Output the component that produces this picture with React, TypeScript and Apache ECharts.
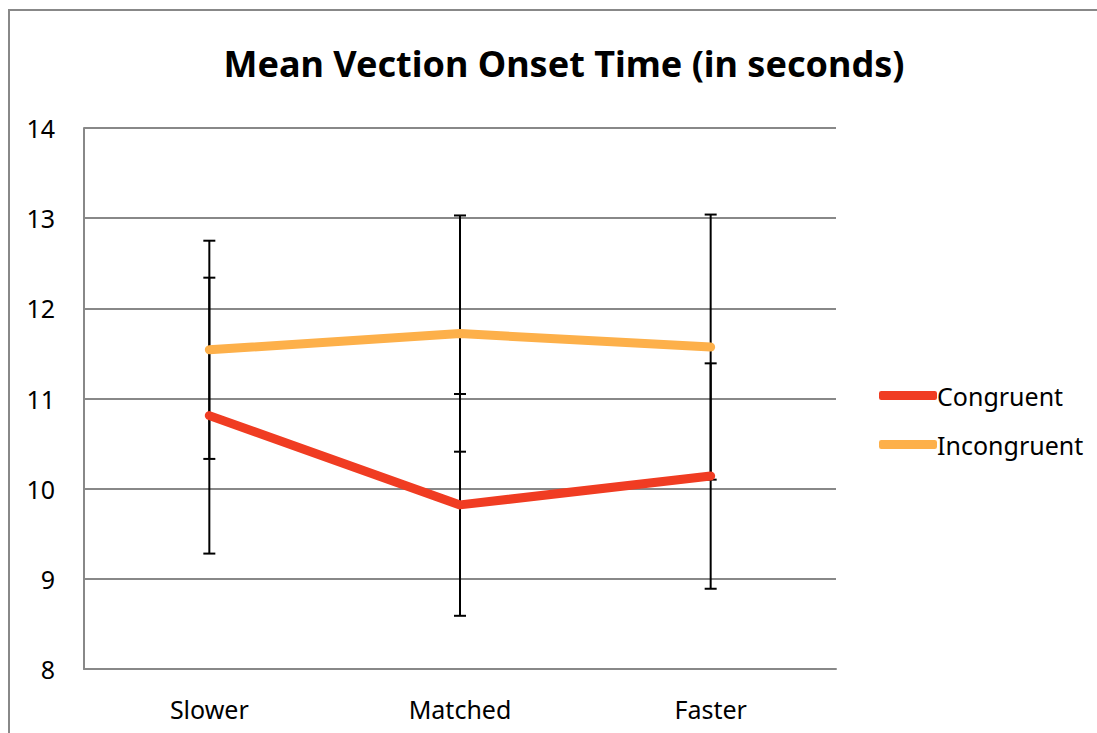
import React, { useEffect, useRef } from "react";
import * as echarts from "echarts";

const categories = ["Slower", "Matched", "Faster"];
const congruent = [10.81, 9.82, 10.14];
const incongruent = [11.54, 11.72, 11.57];
const congruentErr = [1.53, 1.23, 1.25];
const incongruentErr = [1.21, 1.31, 1.47];
const yTicks = [8, 9, 10, 11, 12, 13, 14];

const FONT = "'Noto Sans', 'Open Sans', sans-serif";

function errData(means: number[], errs: number[]) {
  return means.map((m, i) => [i, m - errs[i], m + errs[i]]);
}

function renderErr(params: any, api: any) {
  const x = api.value(0);
  const lo = api.coord([x, api.value(1)]);
  const hi = api.coord([x, api.value(2)]);
  const hw = 6;
  const style = { stroke: "#000", lineWidth: 2 };
  return {
    type: "group",
    children: [
      { type: "line", shape: { x1: lo[0], y1: lo[1], x2: hi[0], y2: hi[1] }, style },
      { type: "line", shape: { x1: lo[0] - hw, y1: lo[1], x2: lo[0] + hw, y2: lo[1] }, style },
      { type: "line", shape: { x1: hi[0] - hw, y1: hi[1], x2: hi[0] + hw, y2: hi[1] }, style },
    ],
  };
}

export default function App() {
  const ref = useRef<HTMLDivElement>(null);
  useEffect(() => {
    const chart = echarts.init(ref.current!, null, { renderer: "svg" });
    chart.setOption({
      animation: false,
      backgroundColor: "#fff",
      title: {
        text: "Mean Vection Onset Time (in seconds)",
        left: 559,
        textAlign: "center",
        top: 40,
        textStyle: { fontFamily: FONT, fontSize: 36, fontWeight: "bold", color: "#000" },
      },
      graphic: [
        {
          type: "polyline",
          shape: { points: [[9, 733], [9, 10], [1097, 10]] },
          style: { stroke: "#888", lineWidth: 2, fill: "none" },
        },
      ],
      legend: {
        orient: "vertical",
        left: 874,
        top: 378,
        itemWidth: 58,
        itemHeight: 9,
        itemGap: 24,
        icon: "roundRect",
        textStyle: { fontFamily: FONT, fontSize: 25, color: "#000", padding: [0, 0, 0, -5] },
        data: ["Congruent", "Incongruent"],
      },
      grid: { left: 84, right: 261, top: 128, bottom: 64 },
      xAxis: {
        type: "category",
        data: categories,
        boundaryGap: true,
        axisLine: { lineStyle: { color: "#888", width: 2 } },
        axisTick: { show: false },
        axisLabel: { fontFamily: FONT, fontSize: 25, color: "#000", margin: 27 },
      },
      yAxis: {
        type: "value",
        min: yTicks[0],
        max: yTicks[yTicks.length - 1],
        interval: 1,
        axisLine: { show: true, lineStyle: { color: "#888", width: 2 } },
        axisTick: { show: false },
        splitLine: { lineStyle: { color: "#888", width: 2 } },
        axisLabel: { fontFamily: FONT, fontSize: 25, color: "#000", margin: 29 },
      },
      series: [
        {
          type: "custom",
          name: "errC",
          renderItem: renderErr,
          data: errData(congruent, congruentErr),
          encode: { x: 0, y: [1, 2] },
          z: 2,
        },
        {
          type: "custom",
          name: "errI",
          renderItem: renderErr,
          data: errData(incongruent, incongruentErr),
          encode: { x: 0, y: [1, 2] },
          z: 2,
        },
        {
          type: "line",
          name: "Congruent",
          data: congruent,
          symbol: "none",
          color: "#F03C22",
          lineStyle: { width: 9, color: "#F03C22", cap: "round", join: "round" },
          z: 3,
        },
        {
          type: "line",
          name: "Incongruent",
          data: incongruent,
          symbol: "none",
          color: "#FDB04A",
          lineStyle: { width: 9, color: "#FDB04A", cap: "round", join: "round" },
          z: 3,
        },
      ],
    });
    return () => chart.dispose();
  }, []);
  return (
    <div
      ref={ref}
      style={{ position: "fixed", left: 0, top: 0, width: 1097, height: 733 }}
    />
  );
}
